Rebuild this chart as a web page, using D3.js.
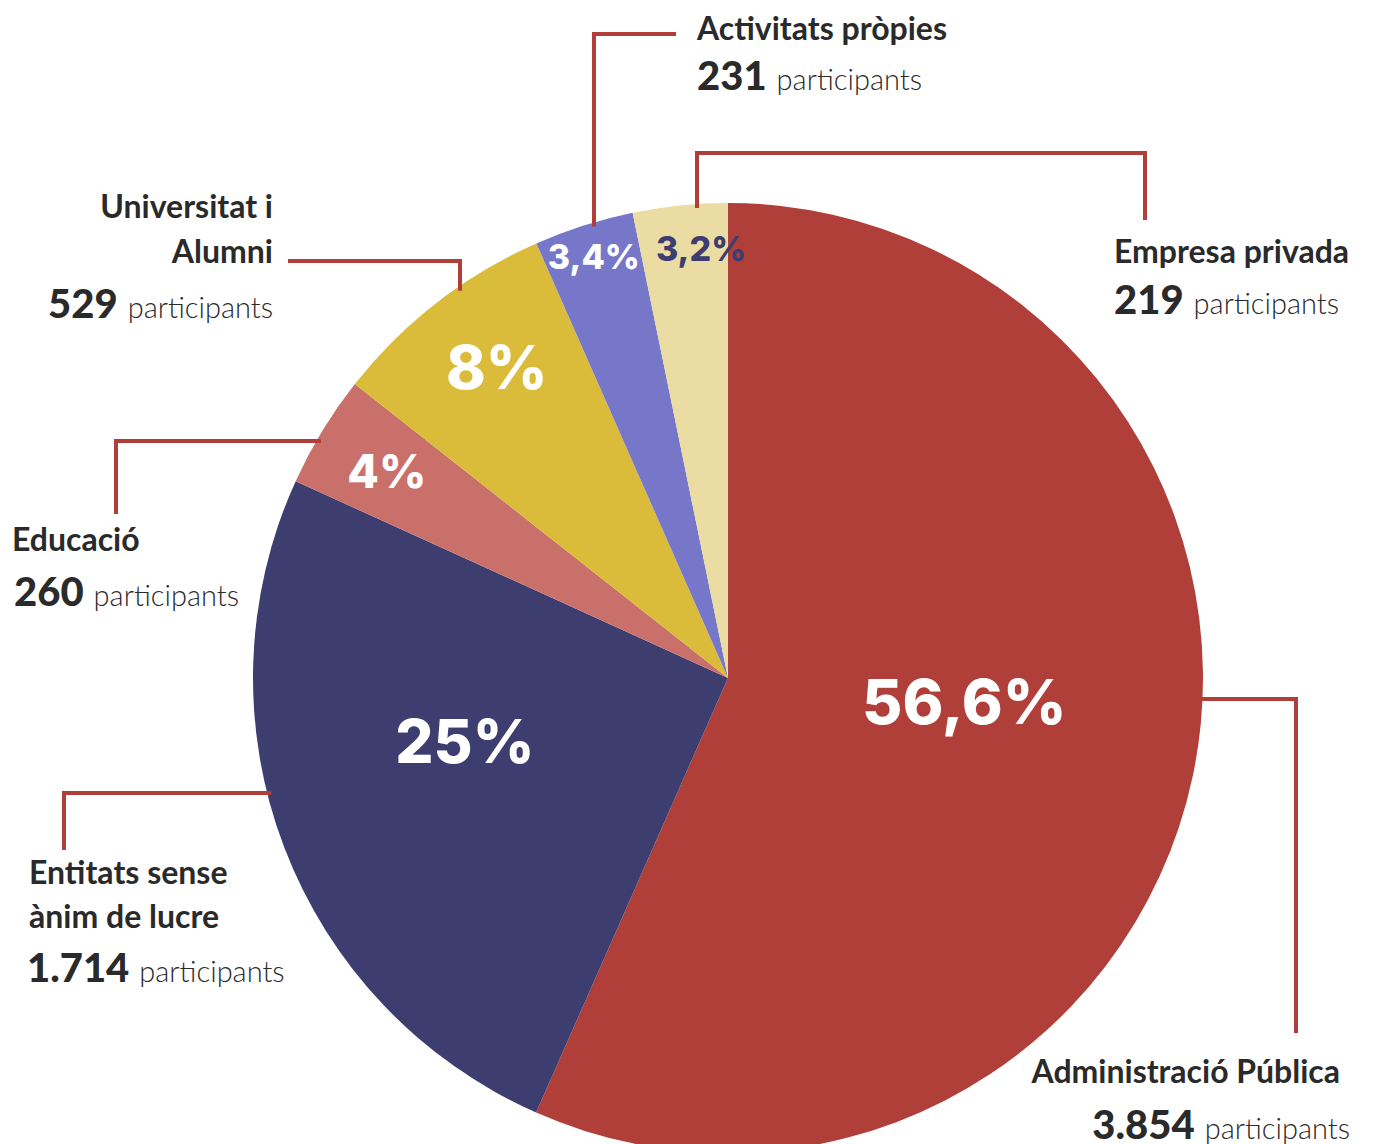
<!DOCTYPE html>
<html lang="ca">
<head>
<meta charset="utf-8">
<title>Participants per sector</title>
<script src="https://cdn.jsdelivr.net/npm/d3@7"></script>
<style>
  body { margin: 0; background: #fff; }
  .lbl { font-family: Lato, "Open Sans", sans-serif; fill: #2a2a2a; }
  .name { font-size: 32px; font-weight: 700; }
  .num { font-size: 40px; font-weight: 900; }
  .part { font-size: 29px; font-weight: 300; }
  .pct { font-family: Inter, "DejaVu Sans", sans-serif; font-weight: 800; text-anchor: middle; }
</style>
</head>
<body>
<div id="chart"></div>
<script>
// data
var sectors = ["Administració Pública", "Entitats sense ànim de lucre", "Educació",
               "Universitat i Alumni", "Activitats pròpies", "Empresa privada"];
var participants = [3854, 1714, 260, 529, 231, 219];
var pctLabels = ["56,6%", "25%", "4%", "8%", "3,4%", "3,2%"];
var numLabels = ["3.854", "1.714", "260", "529", "231", "219"];
var colors = ["#b03f3a", "#3d3d70", "#ca706b", "#dbbb3a", "#7677c8", "#eadca2"];

var w = 1375, h = 1144;
var cx = 728, cy = 678, R = 475;
var lineColor = "#b03f3a";

// where the percentage sits: fraction across the slice, radius fraction, size
var pctStyle = [
  {f: 0.47, r: 0.50, size: 62, color: "#fff"},
  {f: 0.58, r: 0.57, size: 60, color: "#fff"},
  {f: 0.49, r: 0.84, size: 46, color: "#fff"},
  {f: 0.54, r: 0.815, size: 60, color: "#fff"},
  {f: 0.50, r: 0.93, size: 34, color: "#fff"},
  {f: 0.69, r: 0.905, size: 34, color: "#3d3d70"}
];

// leader lines: first segment meets the rim horizontally (h) or vertically (v)
var leaders = [
  {dir: "h", pts: [[1296, 699], [1296, 1033]]},
  {dir: "h", pts: [[64, 793], [64, 850]]},
  {dir: "h", pts: [[116, 441], [116, 514]]},
  {dir: "v", pts: [[460, 261], [288, 261]]},
  {dir: "v", pts: [[594, 34], [676, 34]]},
  {dir: "v", pts: [[697, 153], [1145, 153], [1145, 220]]}
];

// text blocks
var labelPos = [
  {anchor: "end", x: 1340, lines: [["Administració Pública", 1083]], nx: 1350, ny: 1139},
  {anchor: "start", x: 29, lines: [["Entitats sense", 884], ["ànim de lucre", 928]], nx: 27, ny: 982},
  {anchor: "start", x: 12, lines: [["Educació", 551]], nx: 14, ny: 606},
  {anchor: "end", x: 273, lines: [["Universitat i", 218], ["Alumni", 263]], nx: 273, ny: 318},
  {anchor: "start", x: 697, lines: [["Activitats pròpies", 40]], nx: 697, ny: 90},
  {anchor: "start", x: 1114, lines: [["Empresa privada", 263]], nx: 1114, ny: 314}
];

var svg = d3.select("#chart").append("svg")
  .attr("width", w).attr("height", h);

var pie = d3.pie().sort(null).value(function(d) { return d; });
var arcs = pie(participants);
var arc = d3.arc().innerRadius(0).outerRadius(R);

var g = svg.append("g").attr("transform", "translate(" + cx + "," + cy + ")");

g.selectAll("path.slice")
  .data(arcs)
  .enter().append("path")
  .attr("class", "slice")
  .attr("d", arc)
  .attr("fill", function(d, i) { return colors[i]; });

// leader lines
var line = d3.line();
svg.selectAll("path.leader")
  .data(leaders)
  .enter().append("path")
  .attr("class", "leader")
  .attr("d", function(d) {
    var p = d.pts[0], rr = R - 4, start;
    if (d.dir === "h") {
      var dy = p[1] - cy;
      var dx = Math.sqrt(rr * rr - dy * dy);
      start = [p[0] > cx ? cx + dx : cx - dx, p[1]];
    } else {
      var dx2 = p[0] - cx;
      var dy2 = Math.sqrt(rr * rr - dx2 * dx2);
      start = [p[0], p[1] > cy ? cy + dy2 : cy - dy2];
    }
    return line([start].concat(d.pts));
  })
  .attr("fill", "none")
  .attr("stroke", lineColor)
  .attr("stroke-width", 4);

// percentage labels
g.selectAll("text.pct")
  .data(arcs)
  .enter().append("text")
  .attr("class", "pct")
  .attr("transform", function(d, i) {
    var s = pctStyle[i];
    var a = d.startAngle + s.f * (d.endAngle - d.startAngle);
    return "translate(" + (R * s.r * Math.sin(a)) + "," + (-R * s.r * Math.cos(a)) + ")";
  })
  .attr("dy", "0.36em")
  .style("font-size", function(d, i) { return pctStyle[i].size + "px"; })
  .attr("fill", function(d, i) { return pctStyle[i].color; })
  .text(function(d, i) { return pctLabels[i]; });

// sector labels
labelPos.forEach(function(p, i) {
  p.lines.forEach(function(l) {
    svg.append("text")
      .attr("class", "lbl name")
      .attr("x", p.x).attr("y", l[1])
      .attr("text-anchor", p.anchor)
      .text(l[0]);
  });
  var t = svg.append("text")
    .attr("class", "lbl")
    .attr("x", p.nx).attr("y", p.ny)
    .attr("text-anchor", p.anchor);
  t.append("tspan").attr("class", "num").text(numLabels[i]);
  t.append("tspan").attr("class", "part").attr("dx", 10).text("participants");
});
</script>
</body>
</html>
